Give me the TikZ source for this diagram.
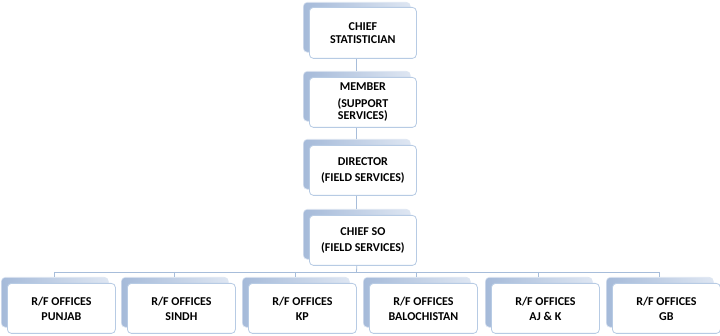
\documentclass[tikz,border=0pt]{standalone}
\usepackage{fontspec}
\setmainfont{Carlito}
\definecolor{frameblue}{HTML}{B7CBE4}
\definecolor{lineblue}{HTML}{A7BDDA}
\definecolor{backdark}{HTML}{A5BAD9}
\definecolor{backlight}{HTML}{DEE6F2}
\begin{document}
\begin{tikzpicture}[x=1pt,y=-1pt,
  backbox/.style={anchor=north west, rectangle, rounded corners=4pt, minimum width=107pt, minimum height=50pt, inner sep=0pt, left color=backdark, right color=backlight, draw=backlight, line width=0.6pt},
  frontbox/.style={anchor=north west, rectangle, rounded corners=4pt, minimum width=107pt, minimum height=51pt, inner sep=0pt, fill=white, draw=frameblue, line width=0.8pt, align=center, font=\bfseries\fontsize{12}{14}\selectfont},
  conn/.style={draw=lineblue, line width=0.8pt}]
\useasboundingbox (0,0) rectangle (720,336);
% top column
\node[backbox] (b1) at (303,2) {};
\node[frontbox] (f1) at (309,7) {CHIEF\\[-1.5pt]STATISTICIAN};
\node[backbox] (b2) at (303,71) {};
\node[frontbox, minimum height=50pt] (f2) at (309,77) {MEMBER\\[3pt](SUPPORT\\[-2pt]SERVICES)};
\node[backbox] (b3) at (303,139) {};
\node[frontbox, minimum height=50pt] (f3) at (309,145) {DIRECTOR\\[2pt](FIELD SERVICES)};
\node[backbox] (b4) at (303,209) {};
\node[frontbox, minimum height=50pt] (f4) at (309,215) {CHIEF SO\\[1.5pt](FIELD SERVICES)};
% bottom row
\foreach \i/\xx/\txt in {1/1/PUNJAB, 2/121/SINDH, 3/242/KP, 4/363/BALOCHISTAN, 5/485/AJ \& K, 6/606/GB}{
  \node[backbox] (r\i) at (\xx,277) {};
  \node[frontbox, minimum width=108pt, minimum height=50pt] (s\i) at (\xx+6,283) {R/F OFFICES\\[1pt]\txt};
}
% connectors
\draw[conn] (f1.south -| b1.south) -- (b2.north);
\draw[conn] (f2.south -| b2.south) -- (b3.north);
\draw[conn] (f3.south -| b3.south) -- (b4.north);
\coordinate (bus) at (356.5,272);
\draw[conn] (f4.south -| b4.south) -- (bus);
\draw[conn] (r1.north |- bus) -- (r6.north |- bus);
\foreach \i in {1,...,6}{
  \draw[conn] (r\i.north |- bus) -- (r\i.north);
}
\end{tikzpicture}
\end{document}
